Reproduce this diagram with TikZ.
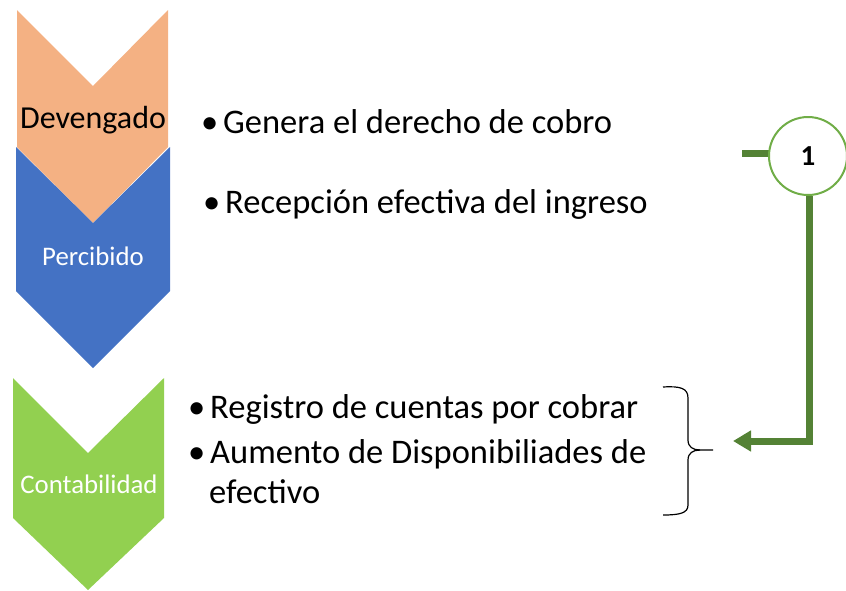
\documentclass[tikz,border=0pt]{standalone}
\usepackage{fontspec}
\setmainfont{Carlito}
\usetikzlibrary{arrows.meta}
\definecolor{cOrange}{HTML}{F4B183}
\definecolor{cBlue}{HTML}{4472C4}
\definecolor{cGreen}{HTML}{92D050}
\definecolor{cLine}{HTML}{548235}
\definecolor{cRing}{HTML}{70AD47}
\tikzset{
  bigtxt/.style={font=\fontsize{32}{38}\selectfont, inner sep=0pt},
  midtxt/.style={font=\fontsize{26.8}{32}\selectfont, inner sep=0pt, text=white},
  btxt/.style={font=\fontsize{34.5}{41}\selectfont, inner sep=0pt, anchor=base west},
  conn/.style={cLine, line width=7pt},
  ring/.style={circle, draw=cRing, line width=2pt, fill=white, minimum size=78pt, inner sep=0pt, font=\fontsize{29}{34}\selectfont\bfseries},
  bracel/.style={black, line width=1.2pt}
}
\newcommand{\bul}{\makebox[22pt][l]{•}}
\begin{document}
\begin{tikzpicture}[x=1pt,y=-1pt]
\useasboundingbox (0,0) rectangle (846,590);
% chevrons
\fill[cOrange] (17,10) -- (93,86) -- (168,10) -- (168,147) -- (93,223) -- (17,147) -- cycle;
\fill[cBlue] (16,147) -- (93,223) -- (170,147) -- (170,291) -- (93,368) -- (16,291) -- cycle;
\fill[cGreen] (13,378) -- (88,453) -- (164,378) -- (164,518) -- (88,590) -- (13,518) -- cycle;
% labels
\node[bigtxt, anchor=base] (dev) at (93,128) {Devengado};
\node[midtxt, anchor=base] (per) at (93,265) {Percibido};
\node[midtxt, anchor=base] (con) at (89,493) {Contabilidad};
% bullets
\node[btxt] (b1) at (201,133) {\bul Genera el derecho de cobro};
\node[btxt] (b2) at (203,213) {\bul Recepción efectiva del ingreso};
\node[btxt] (b3) at (188,418) {\bul Registro de cuentas por cobrar};
\node[btxt] (b4) at (188,463) {\bul Aumento de Disponibiliades de};
\node[btxt] (b5) at (209,503) {efectivo};
% brace
\coordinate (bt) at (713,450);
\draw[bracel] (663,387) .. controls (680,386) and (688,388) .. (688,398) -- (688,440)
  .. controls (688,447) and (693,450) .. (700,450) -- (bt);
\draw[bracel] (700,450) .. controls (693,450) and (688,453) .. (688,460) -- (688,505)
  .. controls (688,513) and (680,515) .. (663,515);
% connector
\coordinate (stub) at (742,153);
\coordinate (corner) at (809,441);
\coordinate (tip) at (733,441);
\coordinate (ringc) at (808,156);
\draw[conn] (stub) -- (780,153);
\node[ring] (one) at (ringc) {1};
\draw[conn, -{Triangle[length=18pt,width=20pt]}] (one.south -| corner) -- (corner) -- (tip);
\end{tikzpicture}
\end{document}
